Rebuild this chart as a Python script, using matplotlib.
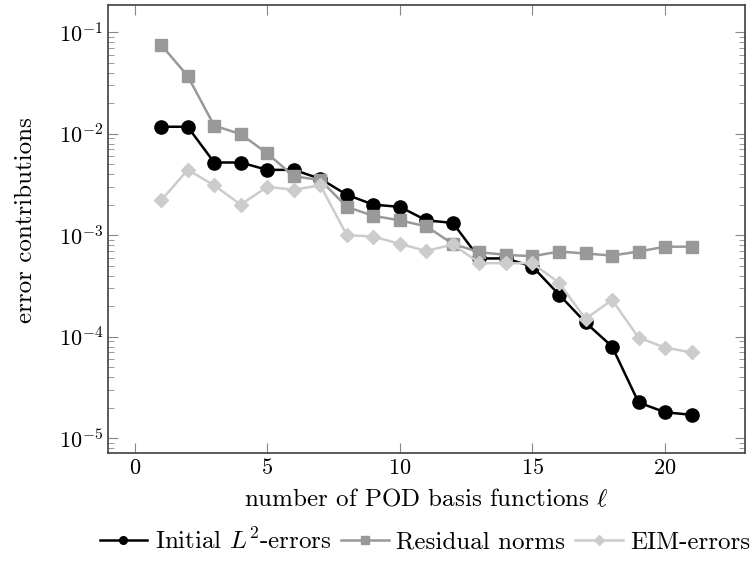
import matplotlib
matplotlib.use("Agg")
import matplotlib.pyplot as plt

## Data
ell = list(range(1, 22))
initial_l2 = [0.0117, 0.0117, 0.0052, 0.0052, 0.0044, 0.0044, 0.0036, 0.0025, 0.0020, 0.0019,
              0.0014, 0.00132, 0.00059, 0.00059, 0.00049, 0.00026, 0.000138, 8.0e-5, 2.25e-5, 1.8e-5, 1.7e-5]
residual = [0.075, 0.037, 0.012, 0.0099, 0.0064, 0.0038, 0.0035, 0.0019, 0.00155, 0.0014,
            0.00122, 0.00082, 0.00068, 0.00064, 0.00062, 0.00069, 0.00066, 0.00063, 0.00069, 0.00077, 0.00077]
eim = [0.0022, 0.0044, 0.0031, 0.0020, 0.0030, 0.0028, 0.0031, 0.00100, 0.00097, 0.00082,
       0.00070, 0.00081, 0.00053, 0.00053, 0.00053, 0.00034, 0.00015, 0.00023, 9.8e-5, 7.8e-5, 7.0e-5]

plt.rcParams['font.family'] = 'cmr10'
plt.rcParams['mathtext.fontset'] = 'cm'
plt.rcParams['axes.formatter.use_mathtext'] = True

fig = plt.figure(figsize=(7.56, 5.61), dpi=100)
ax = fig.add_axes([0.143, 0.192, 0.842, 0.799])

ax.plot(ell, initial_l2, color='black', marker='o', markersize=9.5, linewidth=1.8, label='Initial $L^2$-errors')
ax.plot(ell, residual, color='#999999', marker='s', markersize=9, linewidth=1.8, label='Residual norms')
ax.plot(ell, eim, color='#cccccc', marker='D', markersize=7, linewidth=1.8, label='EIM-errors')

ax.set_yscale('log')
ax.set_xlim(-1, 23)
ax.set_ylim(7.1e-6, 0.185)
ax.set_xticks([0, 5, 10, 15, 20])

for s in ax.spines.values():
    s.set_color('#404040')
    s.set_linewidth(1.2)
ax.tick_params(which='both', direction='in', top=True, right=True, color='#888888', labelsize=16)
ax.tick_params(which='major', length=7)
ax.tick_params(which='minor', length=4)

ax.set_xlabel(r'number of POD basis functions $\ell$', fontsize=18)
ax.xaxis.set_label_coords(0.5, -0.078)
ax.set_ylabel('error contributions', fontsize=18)
ax.yaxis.set_label_coords(-0.111, 0.52)

leg = ax.legend(loc='center', bbox_to_anchor=(0.498, -0.196), ncol=3, frameon=False, fontsize=18,
                handlelength=1.9, handletextpad=0.3, columnspacing=0.4, borderaxespad=0)
for h in leg.legend_handles:
    h.set_markersize(5.5)

fig.savefig('out.png', dpi=100)
